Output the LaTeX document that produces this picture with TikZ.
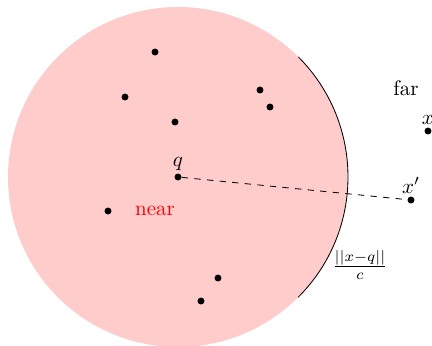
\documentclass[tikz,border=0pt]{standalone}
\begin{document}
\begin{tikzpicture}[x=0.475pt,y=-0.475pt,
  pt/.style={circle,fill=black,inner sep=0pt,minimum size=3.3pt},
  lbl/.style={inner sep=1pt}]
\useasboundingbox (0,0) rectangle (432,346);
\fill[red!20] (178,177) circle (170);
\draw (178,177) ++(45:170) arc (45:-45:170);
\node[pt] (q) at (178,177) {};
\node[lbl,above] at (q.north) {$q$};
\node[pt] (p1) at (155,52) {};
\node[pt] (p2) at (125,97) {};
\node[pt] (p3) at (175,122) {};
\node[pt] (p4) at (260,90) {};
\node[pt] (p5) at (270,107) {};
\node[pt] (p6) at (108,211) {};
\node[pt] (p7) at (218,278) {};
\node[pt] (p8) at (201,301) {};
\node[text=red] (near) at (155,211) {near};
\node[pt] (xp) at (411,200) {};
\node[lbl,above] at (xp.north) {$x'$};
\node[pt] (x) at (428,131) {};
\node[lbl,above] at (x.north) {$x$};
\node (far) at (406,88) {far};
\draw[dashed] (q) -- (xp);
\node (frac) at (360,265) {$\frac{||x-q||}{c}$};
\end{tikzpicture}
\end{document}
